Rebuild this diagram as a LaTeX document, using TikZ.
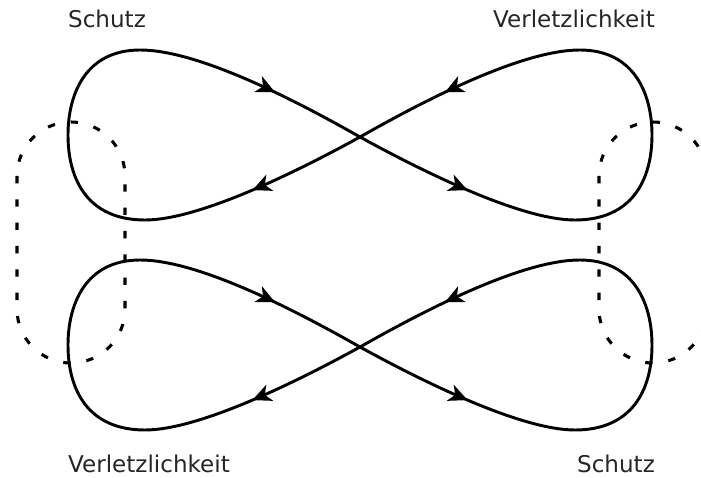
\documentclass[tikz,border=0pt]{standalone}
\usepackage{fontspec}
\setmainfont{DejaVu Sans}
\usetikzlibrary{arrows.meta,decorations.markings}
\tikzset{
  loopline/.style={line width=2.2pt,line join=round,postaction={decorate},
    decoration={markings,
      mark=at position 90pt with {\arrow{Stealth[length=14pt,width=13pt,inset=4pt]}},
      mark=at position -72pt with {\arrow{Stealth[length=14pt,width=13pt,inset=4pt]}}}},
  guard/.style={line width=2.3pt,dash pattern=on 5.5pt off 12pt},
  lbl/.style={anchor=base,inner sep=0pt,font=\fontsize{17.3}{21}\selectfont,text=black!85}
}
\begin{document}
\begin{tikzpicture}[x=0.75pt,y=-0.75pt]
\useasboundingbox (0,0) rectangle (701,478);
\clip (0,0) rectangle (701,478);
\draw[guard,rounded corners=40.5pt] (17,122) rectangle (125,363);
\draw[guard,rounded corners=40.5pt] (599,122) rectangle (707,363);
\foreach \dy in {0,210} {
\begin{scope}[yshift=-\dy*0.75pt]
\coordinate (c) at (360,137);
\draw[loopline] (c) .. controls (300,170) and (200,220) .. (145,220)
  .. controls (88,220) and (68,180) .. (68,135)
  .. controls (68,95) and (85,50) .. (140,50)
  .. controls (200,50) and (300,103) .. (c);
\draw[loopline] (c) .. controls (420,170) and (520,220) .. (575,220)
  .. controls (632,220) and (652,180) .. (652,135)
  .. controls (652,95) and (635,50) .. (580,50)
  .. controls (520,50) and (420,103) .. (c);
\end{scope}
}
\node[lbl] (schutzA) at (107,28) {Schutz};
\node[lbl] (verlA) at (574,28) {Verletzlichkeit};
\node[lbl] (verlB) at (149,472) {Verletzlichkeit};
\node[lbl] (schutzB) at (616,472) {Schutz};
\end{tikzpicture}
\end{document}
